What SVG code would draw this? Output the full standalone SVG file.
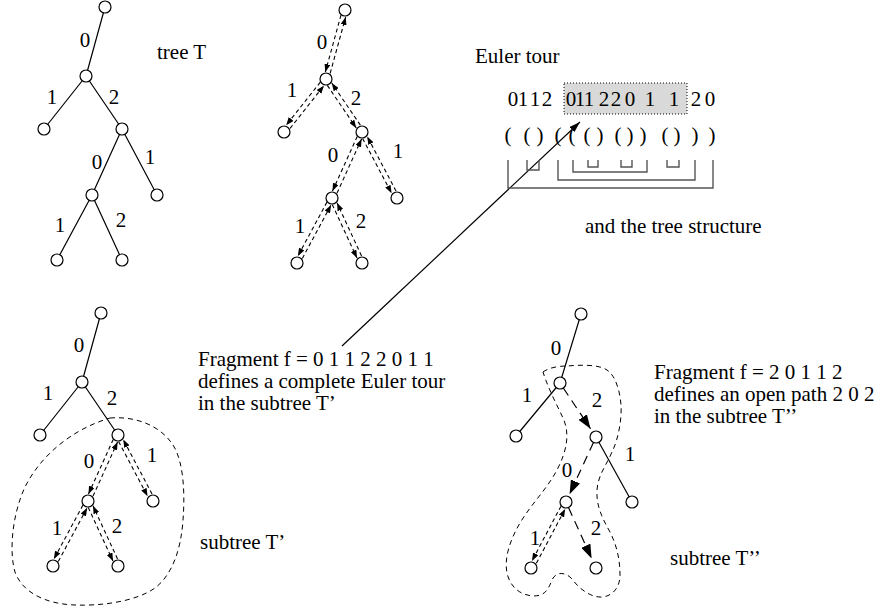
<svg xmlns="http://www.w3.org/2000/svg" width="883" height="610" viewBox="0 0 883 610">
<style>
text{font-family:"Liberation Serif","Times New Roman",serif;font-size:21px;fill:#000}
.lbl{text-anchor:middle}
.nd{fill:#fff;stroke:#000;stroke-width:1.2}
.e{stroke:#000;stroke-width:1.2;fill:none}
.dd{stroke:#000;stroke-width:1.1;stroke-dasharray:4 3;fill:none}
.db{stroke:#000;stroke-width:1.2;stroke-dasharray:9 6;fill:none}
.hull{stroke:#000;stroke-width:1;stroke-dasharray:5 4;fill:none}
.br{stroke:#555;stroke-width:1.4;fill:none}
</style>
<defs>
<marker id="sa" markerWidth="8" markerHeight="6" refX="8" refY="3" orient="auto" markerUnits="userSpaceOnUse"><path d="M0,0 L8,3 L0,6 z" fill="#000"/></marker>
<marker id="ba" markerWidth="14" markerHeight="10" refX="14" refY="5" orient="auto" markerUnits="userSpaceOnUse"><path d="M0,0 L14,5 L0,10 z" fill="#000"/></marker>
<marker id="la" markerWidth="11" markerHeight="7" refX="11" refY="3.5" orient="auto" markerUnits="userSpaceOnUse"><path d="M0,0 L11,3.5 L0,7 z" fill="#000"/></marker>
</defs>

<g id="connectors">
<path class="e" d="M105,7 L86,76 M86,76 L44,129 M86,76 L122,129 M122,129 L92,195 M122,129 L157,195 M92,195 L57,260 M92,195 L122,260"/>
<g transform="translate(345,10) rotate(105.4)"><line class="dd" x1="6" y1="2.5" x2="65" y2="2.5" marker-end="url(#sa)"/><line class="dd" x1="65" y1="-2.5" x2="6.5" y2="-2.5" marker-end="url(#sa)"/></g>
<g transform="translate(326,79) rotate(128.4)"><line class="dd" x1="6" y1="2.5" x2="61" y2="2.5" marker-end="url(#sa)"/><line class="dd" x1="61" y1="-2.5" x2="6.5" y2="-2.5" marker-end="url(#sa)"/></g>
<g transform="translate(326,79) rotate(55.8)"><line class="dd" x1="6" y1="2.5" x2="57.5" y2="2.5" marker-end="url(#sa)"/><line class="dd" x1="57.5" y1="-2.5" x2="6.5" y2="-2.5" marker-end="url(#sa)"/></g>
<g transform="translate(362,132) rotate(114.4)"><line class="dd" x1="6" y1="2.5" x2="66" y2="2.5" marker-end="url(#sa)"/><line class="dd" x1="66" y1="-2.5" x2="6.5" y2="-2.5" marker-end="url(#sa)"/></g>
<g transform="translate(362,132) rotate(62.1)"><line class="dd" x1="6" y1="2.5" x2="68" y2="2.5" marker-end="url(#sa)"/><line class="dd" x1="68" y1="-2.5" x2="6.5" y2="-2.5" marker-end="url(#sa)"/></g>
<g transform="translate(332,198) rotate(118.3)"><line class="dd" x1="6" y1="2.5" x2="67.3" y2="2.5" marker-end="url(#sa)"/><line class="dd" x1="67.3" y1="-2.5" x2="6.5" y2="-2.5" marker-end="url(#sa)"/></g>
<g transform="translate(332,198) rotate(65.2)"><line class="dd" x1="6" y1="2.5" x2="65" y2="2.5" marker-end="url(#sa)"/><line class="dd" x1="65" y1="-2.5" x2="6.5" y2="-2.5" marker-end="url(#sa)"/></g>
<path class="e" d="M101,313 L82,382 M82,382 L40,435 M82,382 L118,435"/>
<g transform="translate(118,435) rotate(114.4)"><line class="dd" x1="6" y1="2.5" x2="66" y2="2.5" marker-end="url(#sa)"/><line class="dd" x1="66" y1="-2.5" x2="6.5" y2="-2.5" marker-end="url(#sa)"/></g>
<g transform="translate(118,435) rotate(62.1)"><line class="dd" x1="6" y1="2.5" x2="68" y2="2.5" marker-end="url(#sa)"/><line class="dd" x1="68" y1="-2.5" x2="6.5" y2="-2.5" marker-end="url(#sa)"/></g>
<g transform="translate(88,501) rotate(118.3)"><line class="dd" x1="6" y1="2.5" x2="67.3" y2="2.5" marker-end="url(#sa)"/><line class="dd" x1="67.3" y1="-2.5" x2="6.5" y2="-2.5" marker-end="url(#sa)"/></g>
<g transform="translate(88,501) rotate(65.2)"><line class="dd" x1="6" y1="2.5" x2="65" y2="2.5" marker-end="url(#sa)"/><line class="dd" x1="65" y1="-2.5" x2="6.5" y2="-2.5" marker-end="url(#sa)"/></g>
<path class="hull" d="M110,418 C135,416 160,425 173,445 C184,462 185,495 183,520 C181,550 172,575 155,588 C135,602 100,606 75,605 C45,604 22,592 15,572 C9,552 12,515 25,487 C40,457 70,430 110,418 Z"/>
<path class="e" d="M581,314 L560,383 M560,383 L516,436 M596,437 L632,502"/>
<g transform="translate(560,383) rotate(56.3)"><line class="db" x1="6" y1="0" x2="55" y2="0" marker-end="url(#ba)"/></g>
<g transform="translate(596,437) rotate(114.8)"><line class="db" x1="6" y1="0" x2="63" y2="0" marker-end="url(#ba)"/></g>
<g transform="translate(566,502) rotate(65.6)"><line class="db" x1="6" y1="0" x2="62" y2="0" marker-end="url(#ba)"/></g>
<g transform="translate(566,502) rotate(117.9)"><line class="dd" x1="6" y1="2.5" x2="68" y2="2.5" marker-end="url(#sa)"/><line class="dd" x1="68" y1="-2.5" x2="6.5" y2="-2.5" marker-end="url(#sa)"/></g>
<path class="hull" d="M543,372 C550,367 560,366 567,366 C580,365 598,364 607,370 C616,376 620,392 621,405 C622,420 618,440 612,452 C606,466 598,475 597,490 C596,505 602,518 610,532 C617,546 620,560 620,575 C620,585 615,595 603,597 C592,598 580,590 572,579 C566,572 556,571 552,580 C548,590 545,596 533,596 C520,595 510,587 507,573 C504,558 510,540 520,523 C532,503 548,488 558,468 C567,450 570,433 563,418 C556,403 548,388 543,372 Z"/>
<line class="e" x1="342" y1="346" x2="580" y2="122" stroke-width="1" marker-end="url(#la)"/>
</g>

<g id="nodes">
<g id="t1-root"><circle class="nd" cx="105" cy="7" r="6"/></g>
<g id="t1-a"><circle class="nd" cx="86" cy="76" r="6"/></g>
<g id="t1-b"><circle class="nd" cx="44" cy="129" r="6"/></g>
<g id="t1-c"><circle class="nd" cx="122" cy="129" r="6"/></g>
<g id="t1-d"><circle class="nd" cx="92" cy="195" r="6"/></g>
<g id="t1-e"><circle class="nd" cx="157" cy="195" r="6"/></g>
<g id="t1-f"><circle class="nd" cx="57" cy="260" r="6"/></g>
<g id="t1-g"><circle class="nd" cx="122" cy="260" r="6"/></g>
<g id="t2-root"><circle class="nd" cx="345" cy="10" r="6"/></g>
<g id="t2-a"><circle class="nd" cx="326" cy="79" r="6"/></g>
<g id="t2-b"><circle class="nd" cx="284" cy="132" r="6"/></g>
<g id="t2-c"><circle class="nd" cx="362" cy="132" r="6"/></g>
<g id="t2-d"><circle class="nd" cx="332" cy="198" r="6"/></g>
<g id="t2-e"><circle class="nd" cx="397" cy="198" r="6"/></g>
<g id="t2-f"><circle class="nd" cx="297" cy="263" r="6"/></g>
<g id="t2-g"><circle class="nd" cx="362" cy="263" r="6"/></g>
<g id="t3-root"><circle class="nd" cx="101" cy="313" r="6"/></g>
<g id="t3-a"><circle class="nd" cx="82" cy="382" r="6"/></g>
<g id="t3-b"><circle class="nd" cx="40" cy="435" r="6"/></g>
<g id="t3-c"><circle class="nd" cx="118" cy="435" r="6"/></g>
<g id="t3-d"><circle class="nd" cx="88" cy="501" r="6"/></g>
<g id="t3-e"><circle class="nd" cx="153" cy="501" r="6"/></g>
<g id="t3-f"><circle class="nd" cx="53" cy="566" r="6"/></g>
<g id="t3-g"><circle class="nd" cx="118" cy="566" r="6"/></g>
<g id="t4-root"><circle class="nd" cx="581" cy="314" r="6"/></g>
<g id="t4-a"><circle class="nd" cx="560" cy="383" r="6"/></g>
<g id="t4-b"><circle class="nd" cx="516" cy="436" r="6"/></g>
<g id="t4-c"><circle class="nd" cx="596" cy="437" r="6"/></g>
<g id="t4-d"><circle class="nd" cx="566" cy="502" r="6"/></g>
<g id="t4-e"><circle class="nd" cx="632" cy="502" r="6"/></g>
<g id="t4-f"><circle class="nd" cx="531" cy="568" r="6"/></g>
<g id="t4-g"><circle class="nd" cx="596" cy="568" r="6"/></g>
</g>

<g id="edge-labels">
<text class="lbl" x="85" y="47">0</text><text class="lbl" x="52" y="104">1</text><text class="lbl" x="114" y="104">2</text><text class="lbl" x="97" y="169">0</text><text class="lbl" x="150" y="164">1</text><text class="lbl" x="60" y="232">1</text><text class="lbl" x="121" y="227">2</text>
<text class="lbl" x="322" y="49">0</text><text class="lbl" x="292" y="97">1</text><text class="lbl" x="356" y="105">2</text><text class="lbl" x="333" y="162">0</text><text class="lbl" x="398" y="158">1</text><text class="lbl" x="300" y="233">1</text><text class="lbl" x="361" y="228">2</text>
<text class="lbl" x="79" y="352">0</text><text class="lbl" x="48" y="400">1</text><text class="lbl" x="112" y="405">2</text><text class="lbl" x="89" y="468">0</text><text class="lbl" x="152" y="462">1</text><text class="lbl" x="57" y="535">1</text><text class="lbl" x="117" y="533">2</text>
<text class="lbl" x="556" y="355">0</text><text class="lbl" x="527" y="402">1</text><text class="lbl" x="597" y="407">2</text><text class="lbl" x="630" y="461">1</text><text class="lbl" x="567" y="477">0</text><text class="lbl" x="535" y="545">1</text><text class="lbl" x="596" y="535">2</text>
</g>

<g id="euler">
<text x="475" y="63">Euler tour</text>
<rect x="564" y="83" width="123" height="31" fill="#d9d9d9" stroke="#000" stroke-width="1" stroke-dasharray="1 2"/>
<text class="lbl" x="513 523 535 547" y="106">0112</text>
<text class="lbl" x="571 580 589 604 616 630 650 674" y="106">01122011</text>
<text class="lbl" x="696 710" y="106">20</text>
<text class="lbl" x="508 527 540 558 572 587 600 618 630 643 665 677 695 712" y="142">(()((()())()))</text>
<path class="br" d="M508,160 V188 H713 V160 M527,160 V170 H539 V160 M558,160 V180 H695 V160 M573,160 V172 H647 V160 M588,160 V167 H598 V160 M621,160 V167 H632 V160 M667,160 V167 H679 V160"/>
<text x="585" y="233">and the tree structure</text>
</g>

<g id="texts">
<text x="157" y="59">tree T</text>
<text x="198" y="366">Fragment f = 0 1 1 2 2 0 1 1<tspan x="198" y="388">defines a complete Euler tour</tspan><tspan x="198" y="410">in the subtree T’</tspan></text>
<text x="200" y="549">subtree T’</text>
<text x="654" y="379">Fragment f = 2 0 1 1 2<tspan x="654" y="401">defines an open path 2 0 2</tspan><tspan x="654" y="423">in the subtree T’’</tspan></text>
<text x="670" y="565">subtree T’’</text>
</g>
</svg>
